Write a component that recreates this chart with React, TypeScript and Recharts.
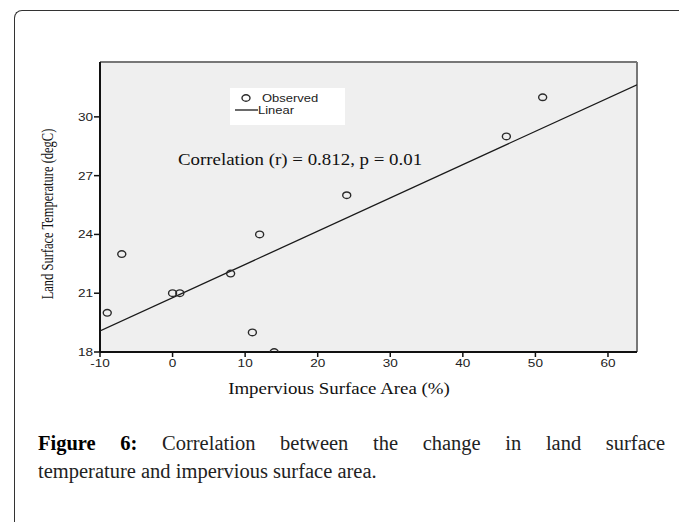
import {
  ScatterChart,
  Scatter,
  XAxis,
  YAxis,
  CartesianGrid,
  ReferenceLine,
} from "recharts";

const impervious = [-9, -7, 0, 1, 8, 11, 12, 14, 24, 46, 51];
const lst = [20, 23, 21, 21, 22, 19, 24, 18, 26, 29, 31];

// linear fit end points (read at the plot edges)
const fitX = [-10, 64];
const fitY = [19.07, 31.64];

const xTicks = [-10, 0, 10, 20, 30, 40, 50, 60];
const yTicks = [18, 21, 24, 27, 30];

const observed = impervious.map((x, i) => ({ x, y: lst[i] }));
const linear = fitX.map((x, i) => ({ x, y: fitY[i] }));

const X_MAX = 64;
const Y_MAX = 32.8;
const STRETCH = 1.18; // the source image is stretched sideways

const tickFont = "'Liberation Sans', Arial, sans-serif";
const serif = "'Liberation Serif', 'Times New Roman', serif";

const XTick = ({ x, y, payload }: any) => (
  <g transform={`translate(${x},${y}) scale(${STRETCH},1)`}>
    <text x={0} y={0} dy="0.71em" textAnchor="middle" fontSize={11.5} fontFamily={tickFont} fill="#222">
      {payload.value}
    </text>
  </g>
);

const YTick = ({ x, y, payload }: any) => (
  <g transform={`translate(${x},${y}) scale(${STRETCH},1)`}>
    <text x={0} y={0} dy="0.35em" textAnchor="end" fontSize={11.5} fontFamily={tickFont} fill="#222">
      {payload.value}
    </text>
  </g>
);

const OpenCircle = ({ cx, cy }: any) => (
  <ellipse cx={cx} cy={cy} rx={4} ry={3.3} fill="none" stroke="#2a2a2a" strokeWidth={1.4} />
);

const NoDot = () => <g />;

export default function App() {
  return (
    <div
      style={{
        position: "absolute",
        left: 0,
        top: 0,
        width: 679,
        height: 522,
        overflow: "hidden",
        background: "#fff",
      }}
    >
      {/* outer frame of the figure box */}
      <div
        style={{
          position: "absolute",
          left: 14,
          top: 10,
          width: 720,
          height: 560,
          borderLeft: "1.5px solid #333",
          borderTop: "1.5px solid #333",
          borderTopLeftRadius: 8,
        }}
      />
      <div style={{ position: "absolute", left: 0, top: 0 }}>
        <ScatterChart
          width={679}
          height={522}
          margin={{ top: 62, right: 42, left: 60, bottom: 140 }}
        >
          <CartesianGrid fill="#efefef" stroke="none" horizontal={false} vertical={false} />
          <XAxis
            type="number"
            dataKey="x"
            domain={[-10, X_MAX]}
            ticks={xTicks}
            allowDataOverflow
            height={30}
            stroke="#111"
            strokeWidth={2}
            tickSize={5}
            tickMargin={2}
            tick={<XTick />}
            tickLine={{ stroke: "#111", strokeWidth: 1.5 }}
          />
          <YAxis
            type="number"
            dataKey="y"
            domain={[18, Y_MAX]}
            ticks={yTicks}
            allowDataOverflow
            width={40}
            stroke="#111"
            strokeWidth={2}
            tickSize={6}
            tickMargin={1}
            tick={<YTick />}
            tickLine={{ stroke: "#111", strokeWidth: 1.5 }}
          />
          <ReferenceLine y={Y_MAX} stroke="#777" strokeWidth={2} />
          <ReferenceLine x={X_MAX} stroke="#777" strokeWidth={2} />
          <Scatter
            data={linear}
            line={{ stroke: "#1a1a1a", strokeWidth: 1.3 }}
            shape={<NoDot />}
            isAnimationActive={false}
          />
          <Scatter data={observed} shape={<OpenCircle />} isAnimationActive={false} />
        </ScatterChart>
      </div>

      {/* legend */}
      <div
        style={{
          position: "absolute",
          left: 230,
          top: 88,
          width: 115,
          height: 37,
          background: "#fff",
        }}
      >
        <svg width={115} height={37} style={{ position: "absolute", left: 0, top: 0 }}>
          <ellipse cx={16} cy={10} rx={4} ry={3.3} fill="none" stroke="#2a2a2a" strokeWidth={1.4} />
          <line x1={5} y1={22} x2={28} y2={22} stroke="#1a1a1a" strokeWidth={1.3} />
          <g transform={`translate(32,10) scale(${STRETCH},1)`}>
            <text x={0} y={0} dy="0.35em" fontSize={11} fontFamily={tickFont} fill="#222">
              Observed
            </text>
          </g>
          <g transform={`translate(28,22) scale(${STRETCH},1)`}>
            <text x={0} y={0} dy="0.35em" fontSize={11} fontFamily={tickFont} fill="#222">
              Linear
            </text>
          </g>
        </svg>
      </div>

      {/* correlation note */}
      <div
        style={{
          position: "absolute",
          left: 178,
          top: 150,
          fontFamily: serif,
          fontSize: 16,
          color: "#111",
          whiteSpace: "nowrap",
          lineHeight: "20px",
          transform: `scaleX(${STRETCH})`,
          transformOrigin: "left center",
        }}
      >
        Correlation (r) = 0.812, p = 0.01
      </div>

      {/* y axis title */}
      <div
        style={{
          position: "absolute",
          left: 48,
          top: 214,
          fontFamily: serif,
          fontSize: 12.5,
          color: "#111",
          whiteSpace: "nowrap",
          lineHeight: "14px",
          transform: "translate(-50%, -50%) rotate(-90deg) scaleY(1.35)",
        }}
      >
        Land Surface Temperature (degC)
      </div>

      {/* x axis title */}
      <div
        style={{
          position: "absolute",
          left: 339,
          top: 389,
          fontFamily: serif,
          fontSize: 16,
          color: "#111",
          whiteSpace: "nowrap",
          lineHeight: "20px",
          transform: `translate(-50%, -50%) scaleX(${STRETCH})`,
        }}
      >
        Impervious Surface Area (%)
      </div>

      {/* caption */}
      <div
        style={{
          position: "absolute",
          left: 38,
          top: 429,
          width: 627,
          fontFamily: serif,
          fontSize: 20.5,
          lineHeight: "28px",
          color: "#222",
        }}
      >
        <div style={{ textAlign: "justify", textAlignLast: "justify", whiteSpace: "nowrap" }}>
          <b style={{ color: "#000" }}>Figure 6:</b> Correlation between the change in land surface
        </div>
        <div style={{ whiteSpace: "nowrap" }}>temperature and impervious surface area.</div>
      </div>
    </div>
  );
}
